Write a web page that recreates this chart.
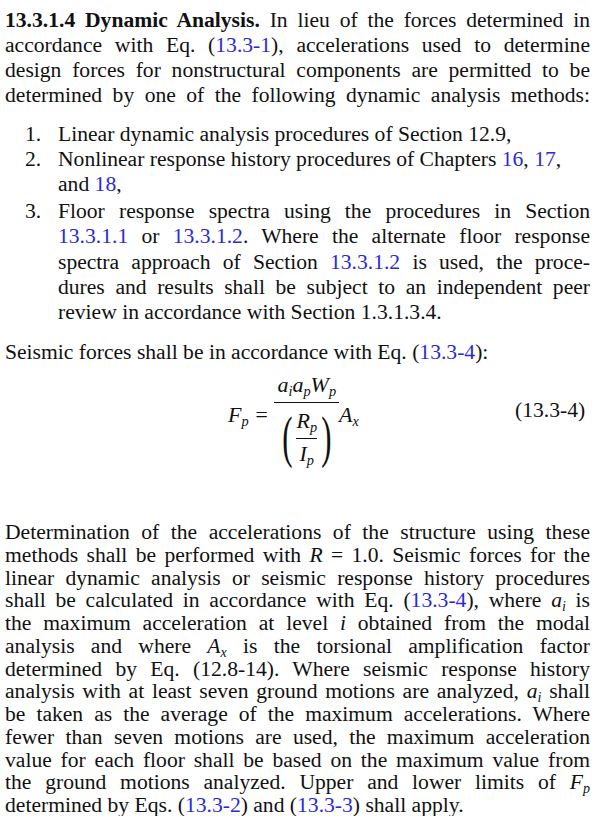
<!DOCTYPE html>
<html><head><meta charset="utf-8">
<script src="https://cdn.jsdelivr.net/npm/d3@7"></script>
<script src="https://cdn.jsdelivr.net/npm/@observablehq/plot@0.6"></script>
<style>
body{margin:0;width:600px;height:816px;overflow:hidden;background:#fff;font-family:"Liberation Serif","Times New Roman",serif;font-size:21.6px;color:#111}
.l{position:absolute;left:5px;width:585px;white-space:nowrap;text-align:justify;text-align-last:justify;line-height:24px}
.l.e{text-align-last:left}
.l.n{left:58px;width:532px}
.num{position:absolute;left:25px;line-height:24px}
a{color:#2a2ad8;text-decoration:none}
i{font-style:italic}
sub{font-size:65%;line-height:0;vertical-align:-0.3em}
</style></head><body>
<script>
const A = s => `<a>${s}</a>`;
// [text, line top, class, list number]
const lines = [
  ["<b>13.3.1.4 Dynamic Analysis.</b> In lieu of the forces determined in", 8, ""],
  [`accordance with Eq. (${A("13.3-1")}), accelerations used to determine`, 33, ""],
  ["design forces for nonstructural components are permitted to be", 58, ""],
  ["determined by one of the following dynamic analysis methods:", 83, ""],
  ["Linear dynamic analysis procedures of Section 12.9,", 122, "n e", "1."],
  [`Nonlinear response history procedures of Chapters ${A("16")}, ${A("17")},`, 147, "n e", "2."],
  [`and ${A("18")},`, 172, "n e"],
  ["Floor response spectra using the procedures in Section", 199, "n", "3."],
  [`${A("13.3.1.1")} or ${A("13.3.1.2")}. Where the alternate floor response`, 224, "n"],
  [`spectra approach of Section ${A("13.3.1.2")} is used, the proce-`, 250, "n"],
  ["dures and results shall be subject to an independent peer", 275, "n"],
  ["review in accordance with Section 1.3.1.3.4.", 300, "n e"],
  [`Seismic forces shall be in accordance with Eq. (${A("13.3-4")}):`, 340, "e"],
  ["Determination of the accelerations of the structure using these", 520, ""],
  ["methods shall be performed with <i>R</i> = 1.0. Seismic forces for the", 545, ""],
  ["linear dynamic analysis or seismic response history procedures", 570, ""],
  [`shall be calculated in accordance with Eq. (${A("13.3-4")}), where <i>a<sub>i</sub></i> is`, 594, ""],
  ["the maximum acceleration at level <i>i</i> obtained from the modal", 619, ""],
  ["analysis and where <i>A<sub>x</sub></i> is the torsional amplification factor", 644, ""],
  ["determined by Eq. (12.8-14). Where seismic response history", 669, ""],
  ["analysis with at least seven ground motions are analyzed, <i>a<sub>i</sub></i> shall", 694, ""],
  ["be taken as the average of the maximum accelerations. Where", 718, ""],
  ["fewer than seven motions are used, the maximum acceleration", 743, ""],
  ["value for each floor shall be based on the maximum value from", 768, ""],
  ["the ground motions analyzed. Upper and lower limits of <i>F<sub>p</sub></i>", 793, ""],
  [`determined by Eqs. (${A("13.3-2")}) and (${A("13.3-3")}) shall apply.`, 817, "e"]
];
lines[25][1] = 793; lines[24][1] = 769; lines[23][1] = 744; lines[22][1] = 744 - 24.8;
for (let k = 13; k < 26; k++) lines[k][1] = 520 + (k - 13) * 24.8 - (k - 13) * 0;
lines[25][1] = 520 + 11 * 24.8; lines[24][1] = 520 + 10 * 24.8;
for (let k = 13; k < 26; k++) lines[k][1] = 520 + Math.min(k - 13, 11) * 24.8 - (k === 25 ? 0 : 0);
// recompute: 13 lines, last at 793
for (let k = 13; k < 26; k++) lines[k][1] = 520 + (k - 13) * (273 / 12);
let h = "";
for (const [t, y, c, n] of lines) {
  h += `<div class="l ${c}" style="top:${y}px">${t}</div>`;
  if (n) h += `<div class="num" style="top:${y}px">${n}</div>`;
}
h += `<div style="position:absolute;left:228px;top:372px;font-style:italic;display:flex;align-items:center;font-size:22px">
 <span style="margin-top:-12px">F<sub>p</sub>&nbsp;=&nbsp;</span>
 <span style="display:inline-flex;flex-direction:column;align-items:center">
  <span style="border-bottom:1px solid #111;padding:0 3px 4px">a<sub>i</sub>a<sub>p</sub>W<sub>p</sub></span>
  <span style="display:flex;align-items:center;margin-top:2px"><span style="font-size:56px;font-style:normal;transform:scaleX(.55)">(</span>
   <span style="display:inline-flex;flex-direction:column;align-items:center"><span style="border-bottom:1px solid #111;padding-bottom:4px">R<sub>p</sub></span><span style="padding-top:2px">I<sub>p</sub></span></span>
   <span style="font-size:56px;font-style:normal;transform:scaleX(.55)">)</span></span>
 </span>
 <span style="margin-top:-12px">A<sub>x</sub></span></div>
 <div style="position:absolute;left:515px;top:398px">(13.3-4)</div>`;
document.body.innerHTML = h;
</script>
</body></html>
